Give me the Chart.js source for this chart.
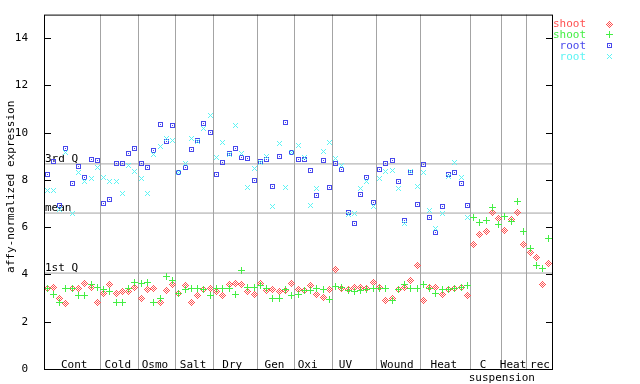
<!DOCTYPE html>
<html lang="en">
<head>
<meta charset="UTF-8" />
<title>affy-normalized expression</title>
<script src="https://cdn.jsdelivr.net/npm/chart.js"></script>
<style>
  html, body { margin: 0; padding: 0; background: #fff; }
  canvas { display: block; }
</style>
</head>
<body>
<canvas id="myChart" width="640" height="384"></canvas>
<script>
  // conditions along the x axis and how many samples each has
  const groupNames = ['Cont', 'Cold', 'Osmo', 'Salt', 'Dry', 'Gen', 'Oxi', 'UV', 'Wound', 'Heat', 'C', 'Heat', 'rec'];
  const groupSizes = [9, 6, 6, 6, 7, 6, 6, 7, 7, 8, 5, 4, 4];

  const seriesNames = ['shoot', 'shoot', 'root', 'root'];
  const seriesColors = ['#ff5050', '#44ee44', '#4848ec', '#5cf4f4'];

  // shoot, first replicate (red diamonds)
  const shootRep1 = [
    3.42, 3.45, 3.00, 2.79, 3.42, 3.42, 3.61, 3.47, 2.83,
    3.21, 3.58, 3.21, 3.30, 3.30, 3.47,
    3.00, 3.38, 3.42, 2.83, 3.34, 3.59,
    3.21, 3.55, 2.80, 3.13, 3.38, 3.42,
    3.30, 3.09, 3.59, 3.62, 3.58, 3.26, 3.17,
    3.61, 3.34, 3.38, 3.30, 3.34, 3.61,
    3.38, 3.34, 3.55, 3.17, 3.04, 3.38,
    4.23, 3.42, 3.38, 3.47, 3.47, 3.42, 3.68,
    3.47, 2.88, 3.00, 3.38, 3.47, 3.76, 4.36,
    2.88, 3.47, 3.47, 3.17, 3.38, 3.42, 3.47, 3.13,
    5.29, 5.71, 5.84, 6.64, 6.38,
    5.88, 6.34, 6.64, 5.29,
    4.95, 4.74, 3.59, 4.48
  ];
  // shoot, second replicate (green crosses)
  const shootRep2 = [
    3.42, 3.14, 2.83, 3.42, 3.42, 3.09, 3.09, 3.58, 3.47,
    3.38, 3.26, 2.80, 2.83, 3.42, 3.64,
    3.61, 3.64, 2.83, 3.00, 3.93, 3.73,
    3.21, 3.38, 3.42, 3.42, 3.38, 3.09,
    3.42, 3.42, 3.42, 3.15, 4.19, 3.47, 3.47,
    3.55, 3.42, 3.00, 3.00, 3.38, 3.13,
    3.17, 3.34, 3.34, 3.42, 3.38, 2.96,
    3.51, 3.47, 3.34, 3.30, 3.34, 3.38, 3.42,
    3.42, 3.42, 2.88, 3.38, 3.58, 3.42, 3.42,
    3.59, 3.42, 3.21, 3.38, 3.38, 3.42, 3.47, 3.55,
    6.43, 6.22, 6.30, 6.85, 6.13,
    6.47, 6.26, 7.10, 5.84,
    5.12, 4.40, 4.27, 5.54
  ];
  // root, first replicate (blue squares) - no root samples after Heat
  const rootRep1 = [
    8.22, 8.79, 6.93, 9.34, 7.84, 8.55, 8.12, 8.88, 8.84,
    7.02, 7.19, 8.71, 8.71, 9.13, 9.34,
    8.71, 8.54, 9.26, 10.36, 9.64, 10.32,
    8.33, 8.54, 9.30, 9.68, 10.39, 10.02,
    8.25, 8.75, 9.13, 9.34, 8.96, 8.92, 7.99,
    8.79, 8.88, 7.74, 9.01, 10.44, 9.18,
    8.88, 8.88, 8.41, 7.36, 8.84, 7.70,
    8.71, 8.46, 6.64, 6.17, 7.40, 8.12, 7.06,
    8.46, 8.71, 8.84, 7.95, 6.30, 8.33, 6.98,
    8.67, 6.43, 5.79, 6.89, 8.25, 8.33, 7.86, 6.93
  ];
  // root, second replicate (cyan x)
  const rootRep2 = [
    7.54, 7.57, 6.77, 9.18, 6.60, 8.33, 7.95, 8.08, 8.54,
    8.12, 7.95, 7.95, 7.44, 8.63, 8.37,
    8.08, 7.44, 9.09, 9.43, 9.77, 9.68,
    8.33, 8.71, 9.77, 9.64, 10.19, 10.74,
    8.96, 9.60, 9.09, 10.32, 9.13, 7.70, 8.50,
    8.75, 9.01, 6.89, 9.56, 7.70, 9.18,
    9.47, 8.96, 6.93, 7.65, 9.22, 9.60,
    8.92, 8.63, 6.55, 6.60, 7.63, 7.95, 6.89,
    8.08, 8.37, 8.41, 7.65, 6.17, 8.37, 7.74,
    8.33, 6.72, 5.96, 6.60, 8.16, 8.75, 8.12, 6.43
  ];

  // reference levels drawn across the plot
  const refNames = ['3rd Q', 'mean', '1st Q'];
  const refValues = [8.68, 6.60, 4.06];

  const yTicks = [0, 2, 4, 6, 8, 10, 12, 14];
  const yTitle = 'affy-normalized expression';

  const FONT = 'DejaVu Sans Mono';
  const GRAY = '#a4a4a4';
  Chart.defaults.font.family = FONT;
  Chart.defaults.font.size = 11;
  Chart.defaults.color = '#000';

  const totalSamples = groupSizes.reduce((a, b) => a + b, 0);

  // x positions of the gray separators between conditions
  const boundaries = [];
  let cum = 0;
  groupSizes.forEach((n, i) => {
    cum += n;
    if (i < groupSizes.length - 1) boundaries.push(cum + 0.5);
  });

  // small pixel markers, like the original png
  function makeMarker(color, pixels) {
    const c = document.createElement('canvas');
    c.width = 9;
    c.height = 9;
    const g = c.getContext('2d');
    g.fillStyle = color;
    pixels.forEach(([dx, dy]) => g.fillRect(4 + dx, 4 + dy, 1, 1));
    return c;
  }
  const diamondPx = [], plusPx = [], boxPx = [], xPx = [];
  for (let dx = -3; dx <= 3; dx++) {
    for (let dy = -3; dy <= 3; dy++) {
      if (Math.abs(dx) + Math.abs(dy) <= 3 && Math.abs(dx + dy) % 2 === 1) diamondPx.push([dx, dy]);
    }
    plusPx.push([dx, 0], [0, dx]);
  }
  for (let d = -2; d <= 2; d++) {
    boxPx.push([d, -2], [d, 2], [-2, d], [2, d]);
    xPx.push([d, d], [d, -d]);
  }
  boxPx.push([0, 0]);
  const markerPx = [diamondPx, plusPx, boxPx, xPx];
  const markers = seriesColors.map((c, k) => makeMarker(c, markerPx[k]));

  const seriesValues = [shootRep1, shootRep2, rootRep1, rootRep2];

  const pointSets = seriesValues.map((vals, k) => ({
    type: 'scatter',
    label: seriesNames[k],
    data: vals.map((v, i) => ({ x: i + 1, y: v })),
    pointStyle: markers[k],
    pointRadius: 4,
    pointHoverRadius: 4,
    borderColor: seriesColors[k],
    backgroundColor: seriesColors[k],
    order: 4 - k
  }));

  const refSets = refValues.map((v, k) => ({
    type: 'line',
    label: refNames[k],
    data: [{ x: 0.5, y: v }, { x: totalSamples + 0.5, y: v }],
    borderColor: GRAY,
    borderWidth: 1,
    pointRadius: 0,
    order: 10
  }));

  // nudges (px) of the group labels from their group centre
  const labelNudge = [2, -1.5, -2, -1.5, -3, -1.5, -6, -9, -1.3, -1.6, -3, -1.3, 0.6];

  const decorations = {
    id: 'decorations',
    beforeDatasetsDraw(chart) {
      const ctx = chart.ctx;
      const { left } = chart.chartArea;
      const y = chart.scales.y;
      ctx.save();
      ctx.font = '11px "' + FONT + '"';
      ctx.fillStyle = '#000';
      ctx.textAlign = 'left';
      ctx.textBaseline = 'alphabetic';
      refValues.forEach((v, k) => {
        ctx.fillText(refNames[k], left + 1, y.getPixelForValue(v) - 2);
      });
      ctx.restore();
      ctx.imageSmoothingEnabled = false;
      // snap markers to the pixel grid so the pixel images stay crisp
      chart.data.datasets.forEach((ds, i) => {
        if (ds.type !== 'scatter') return;
        chart.getDatasetMeta(i).data.forEach(pt => {
          pt.x = Math.floor(pt.x) + 0.5;
          pt.y = Math.floor(pt.y) + 0.5;
        });
      });
    },
    afterDraw(chart) {
      const ctx = chart.ctx;
      const { left, right, top, bottom } = chart.chartArea;
      const x = chart.scales.x;
      const y = chart.scales.y;
      ctx.save();

      // frame
      ctx.strokeStyle = '#000';
      ctx.lineWidth = 1;
      ctx.strokeRect(left + 0.5, top + 0.5, right - left, bottom - top);

      // inward ticks on both sides
      ctx.beginPath();
      yTicks.forEach(v => {
        const py = Math.round(y.getPixelForValue(v)) + 0.5;
        ctx.moveTo(left, py);
        ctx.lineTo(left + 7, py);
        ctx.moveTo(right + 1, py);
        ctx.lineTo(right - 6, py);
      });
      ctx.stroke();

      ctx.font = '11px "' + FONT + '"';
      ctx.fillStyle = '#000';

      // condition labels inside the plot, along the bottom
      ctx.textAlign = 'center';
      ctx.textBaseline = 'alphabetic';
      let start = 0.5;
      groupNames.forEach((name, i) => {
        const end = start + groupSizes[i];
        const cx = (x.getPixelForValue(start) + x.getPixelForValue(end)) / 2 + labelNudge[i];
        ctx.fillText(name, cx, bottom - 1);
        start = end;
      });
      ctx.fillText('suspension', x.getPixelForValue(boundaries[10]), bottom + 12);

      // y axis title
      ctx.save();
      ctx.translate(11, (top + bottom) / 2 - 5);
      ctx.rotate(-Math.PI / 2);
      ctx.textBaseline = 'middle';
      ctx.fillText(yTitle, 0, 0);
      ctx.restore();

      // legend: text right aligned, marker to the right
      ctx.textAlign = 'right';
      ctx.textBaseline = 'middle';
      ctx.imageSmoothingEnabled = false;
      seriesNames.forEach((name, k) => {
        const ly = 23.5 + k * 10.9;
        ctx.fillStyle = seriesColors[k];
        ctx.fillText(name, 586, ly + 0.5);
        ctx.drawImage(markers[k], 605, Math.round(ly) - 4);
      });
      ctx.restore();
    }
  };

  const ctx = document.getElementById('myChart').getContext('2d');
  const myChart = new Chart(ctx, {
    type: 'scatter',
    data: { datasets: [...pointSets, ...refSets] },
    options: {
      responsive: false,
      animation: false,
      layout: { padding: { top: 13, right: 88, left: 0, bottom: 0 } },
      scales: {
        x: {
          type: 'linear',
          min: 0.5,
          max: totalSamples + 0.5,
          afterBuildTicks: s => { s.ticks = boundaries.map(v => ({ value: v })); },
          afterFit: s => { s.height = 15; },
          ticks: { display: false },
          grid: { color: GRAY, lineWidth: 1, drawTicks: false },
          border: { display: false }
        },
        y: {
          type: 'linear',
          min: 0,
          max: 15,
          afterBuildTicks: s => { s.ticks = yTicks.map(v => ({ value: v })); },
          afterFit: s => { s.width = 44; },
          ticks: { color: '#000', padding: 8, font: { family: FONT, size: 11 } },
          grid: { display: false },
          border: { display: false }
        }
      },
      plugins: {
        legend: { display: false },
        tooltip: { enabled: false }
      }
    },
    plugins: [decorations]
  });
</script>
</body>
</html>
